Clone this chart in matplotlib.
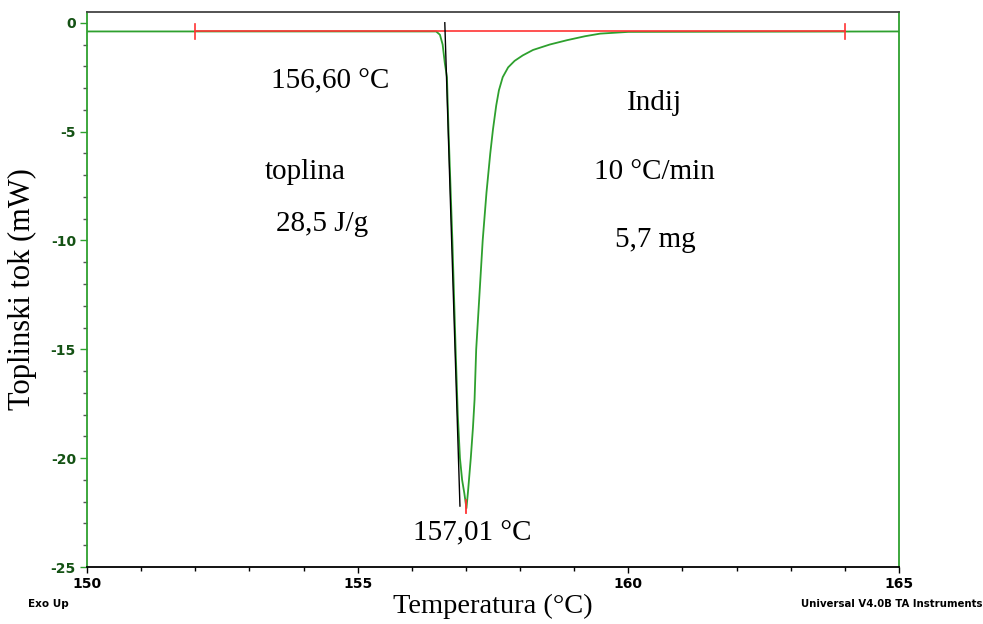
import matplotlib.pyplot as plt
from matplotlib.ticker import MultipleLocator

plt.rcParams["axes.unicode_minus"] = False

# DSC curve of indium
temp = [150.0, 156.45, 156.52, 156.57, 156.61, 156.65, 156.68, 156.75, 156.81,
        156.85, 156.89, 156.93, 156.97, 157.01, 157.04, 157.09, 157.13, 157.16,
        157.19, 157.25, 157.31, 157.38, 157.45, 157.50, 157.56, 157.61, 157.68,
        157.78, 157.90, 158.05, 158.24, 158.55, 158.87, 159.20, 159.48, 160.00, 165.0]
heat_flow = [-0.40, -0.40, -0.55, -1.00, -1.85, -2.50, -5.00, -10.0, -15.0,
             -18.0, -20.0, -21.0, -21.6, -22.3, -21.5, -20.0, -18.6, -17.3,
             -15.0, -12.5, -10.0, -7.8, -6.0, -4.9, -3.8, -3.1, -2.5,
             -2.05, -1.75, -1.50, -1.25, -1.00, -0.80, -0.62, -0.50, -0.42, -0.40]

baseline_T = [152.0, 164.0]
baseline_val = -0.40
tangent_T = [156.61, 156.89]
tangent_val = [0.0, -22.2]
peak_T = 157.01
peak_val = [-21.9, -22.5]

annotations = [
    ("156,60 °C", 154.49, -2.71),
    ("Indij", 160.49, -3.68),
    ("toplina", 154.03, -6.85),
    ("10 °C/min", 160.49, -6.85),
    ("28,5 J/g", 154.34, -9.24),
    ("5,7 mg", 160.49, -9.97),
    ("157,01 °C", 157.11, -23.44),
]

green = "#2ea02e"
red = "#ff3333"

fig = plt.figure(figsize=(9.83, 6.24), dpi=100)
ax = fig.add_axes([0.0885, 0.0913, 0.826, 0.8897])

ax.plot(temp, heat_flow, color=green, lw=1.3, zorder=3)
ax.plot(baseline_T, [baseline_val, baseline_val], color=red, lw=1.2, zorder=4)
for t in baseline_T:
    ax.plot([t, t], [baseline_val + 0.35, baseline_val - 0.35], color=red, lw=1.2, zorder=4)
ax.plot(tangent_T, tangent_val, color="black", lw=1.0, zorder=5)
ax.plot([peak_T, peak_T], peak_val, color=red, lw=1.3, zorder=6)

for txt, x, y in annotations:
    ax.text(x, y, txt, ha="center", va="center", fontsize=21,
            family="Liberation Serif")

ax.set_xlim(150, 165)
ax.set_ylim(-25, 0.5)
ax.xaxis.set_major_locator(MultipleLocator(5))
ax.xaxis.set_minor_locator(MultipleLocator(1))
ax.yaxis.set_major_locator(MultipleLocator(5))
ax.yaxis.set_minor_locator(MultipleLocator(1))

ax.tick_params(axis="x", which="major", direction="out", length=4, width=1,
               colors="black", labelsize=10, pad=3)
ax.tick_params(axis="x", which="minor", direction="out", length=3, width=1, colors="black")
ax.tick_params(axis="y", which="major", direction="out", length=5, width=1,
               colors=green, labelcolor="#145214", labelsize=10, pad=3)
ax.tick_params(axis="y", which="minor", direction="out", length=3, width=1, colors="#555555")
for lab in ax.get_xticklabels() + ax.get_yticklabels():
    lab.set_fontweight("bold")

ax.spines["left"].set_color(green)
ax.spines["right"].set_color(green)
ax.spines["top"].set_color("#444444")
ax.spines["bottom"].set_color("black")
for s in ax.spines.values():
    s.set_linewidth(1.3)

ax.set_xlabel("Temperatura (°C)", fontsize=20.5, family="Liberation Serif", labelpad=2)
ax.set_ylabel("Toplinski tok (mW)", fontsize=22, family="Liberation Serif", labelpad=10)

fig.text(0.028, 0.032, "Exo Up", fontsize=7.5, fontweight="bold", ha="left", va="center")
fig.text(0.999, 0.032, "Universal V4.0B TA Instruments", fontsize=7.3,
         fontweight="bold", ha="right", va="center")

fig.savefig("out.png", dpi=100, facecolor="white")
